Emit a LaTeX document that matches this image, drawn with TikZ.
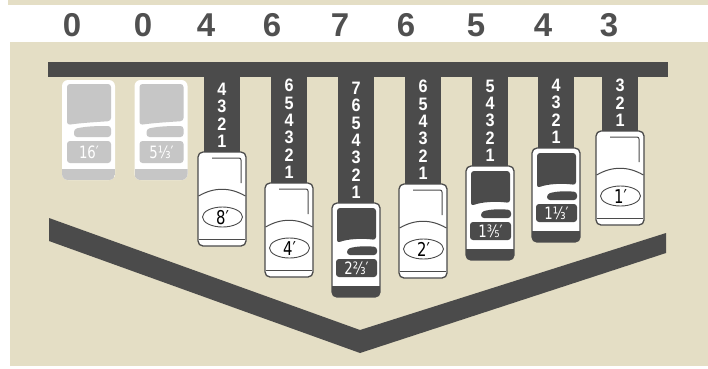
\documentclass[tikz,border=0pt]{standalone}
\usepackage{fontspec}
\setmainfont{Liberation Sans}
\newfontfamily\labfont{DejaVu Sans}
\usetikzlibrary{shapes.geometric}
\definecolor{beige}{HTML}{E4DEC5}
\definecolor{dk}{HTML}{4B4B4B}
\definecolor{lg}{HTML}{C6C6C6}
\definecolor{numc}{HTML}{505050}
\tikzset{
  topnum/.style={font=\fontsize{33}{33}\selectfont\bfseries, text=numc, inner sep=0pt},
  stemdig/.style={font=\fontsize{18}{18}\selectfont\bfseries, text=white, inner sep=0pt},
  ovl/.style={ellipse, draw=dk, line width=0.9pt, minimum width=40pt, minimum height=20pt, inner sep=0pt, fill=white},
  whitelab/.style={text=black, inner sep=0pt, font=\labfont\fontsize{19}{19}\selectfont},
  darklab/.style={text=white, inner sep=0pt, font=\labfont\fontsize{17}{17}\selectfont},
  outl/.style={line width=1.3pt, draw=dk, rounded corners=5pt},
  thin/.style={line width=1pt, draw=dk}
}
\newcommand\cond[1]{\scalebox{0.78}[1]{#1}}
\newcommand\stemcond[1]{\scalebox{0.9}[1]{#1}}
\newcommand\whitetab[4]{%
\begin{scope}[shift={(#1-24,#2)}]
 \draw[outl, fill=white] (0,0) rectangle (48,94);
 \draw[thin, rounded corners=2pt] (14,6) -- (43,6) -- (43,31);
 \draw[thin] (0.6,44) .. controls (16,35) and (32,35) .. (47.4,44);
 \draw[thin] (0.6,87) -- (47.4,87);
 \node[ovl] (#4o) at (24.5,65) {};
 \node[whitelab] (#4) at (24.5,65.5) {\cond{#3}};
\end{scope}}
\newcommand\darktab[4]{%
\begin{scope}[shift={(#1-24,#2)}]
 \fill[white, rounded corners=5pt] (0,0) rectangle (48,94);
 \begin{scope}
  \clip[rounded corners=5pt] (0,0) rectangle (48,94);
  \fill[dk] (0,83) rectangle (48,94);
 \end{scope}
 \fill[dk, rounded corners=3pt] (5,5) -- (44,5) -- (44,37) .. controls (30,35) and (15,36) .. (5,40) -- cycle;
 \fill[dk, rounded corners=3pt] (15,46) .. controls (25,43) and (35,43) .. (45,44) -- (45,52) -- (15,52) -- cycle;
 \fill[dk, rounded corners=3pt] (4,56) rectangle (45,74);
 \node[darklab] (#4) at (24.5,65.5) {\cond{#3}};
 \draw[outl] (0,0) rectangle (48,94);
\end{scope}}
\newcommand\greytab[4]{%
\begin{scope}[shift={(#1-26.5,#2)}]
 \fill[white, rounded corners=6pt] (0,0) rectangle (53,100);
 \begin{scope}
  \clip[rounded corners=6pt] (0,0) rectangle (53,100);
  \fill[lg] (0,89) rectangle (53,100);
 \end{scope}
 \fill[lg, rounded corners=3pt] (5,4) -- (49,4) -- (49,41) .. controls (35,42) and (18,43) .. (5,45) -- cycle;
 \fill[lg, rounded corners=3pt] (12,49) .. controls (25,46) and (38,46) .. (49,46) -- (49,57) -- (12,57) -- cycle;
 \fill[lg, rounded corners=3pt] (5,61) rectangle (49,83);
 \node[darklab] (#4) at (27,72.5) {\cond{#3}};
\end{scope}}
\begin{document}
\begin{tikzpicture}[x=1pt,y=-1pt]
\useasboundingbox (0,0) rectangle (708,368);
\fill[white] (0,0) rectangle (708,368);
\fill[beige] (8,0) rectangle (708,5);
\fill[beige] (10,42) rectangle (708,366);
% top numbers
\foreach \x/\v [count=\i] in {72/0,143/0,206/4,272/6,340/7,406/6,476/5,543/4,609/3}
  \node[topnum] (t\i) at (\x,25) {\v};
% bar
\fill[dk] (48,62) rectangle (668,77);
% stems with digits
\foreach \cx/\T/\n [count=\c] in {222/152/4, 289/183/6, 356/203/7, 423/184/6, 490/166/5, 556/148/4, 620/131/3} {
  \fill[dk] (\cx-18,70) rectangle (\cx+18,\T+1);
  \foreach \k in {1,...,\n}
    \node[stemdig] (d\c-\k) at (\cx,\T-10.5-17.4*\k+17.4) {\stemcond{\k}};
}
% tabs
\greytab{88.5}{80}{16′}{l1}
\greytab{161}{80}{5⅓′}{l2}
\whitetab{222}{152}{8′}{l3}
\whitetab{289}{183}{4′}{l4}
\darktab{356}{203}{2⅔′}{l5}
\whitetab{423}{184}{2′}{l6}
\darktab{490}{166}{1⅗′}{l7}
\darktab{556}{148}{1⅓′}{l8}
\whitetab{620}{131}{1′}{l9}
% V shape
\fill[dk] (49,218) -- (360,330) -- (666,233) -- (666,253) -- (360,353) -- (49,241) -- cycle;
\end{tikzpicture}
\end{document}
